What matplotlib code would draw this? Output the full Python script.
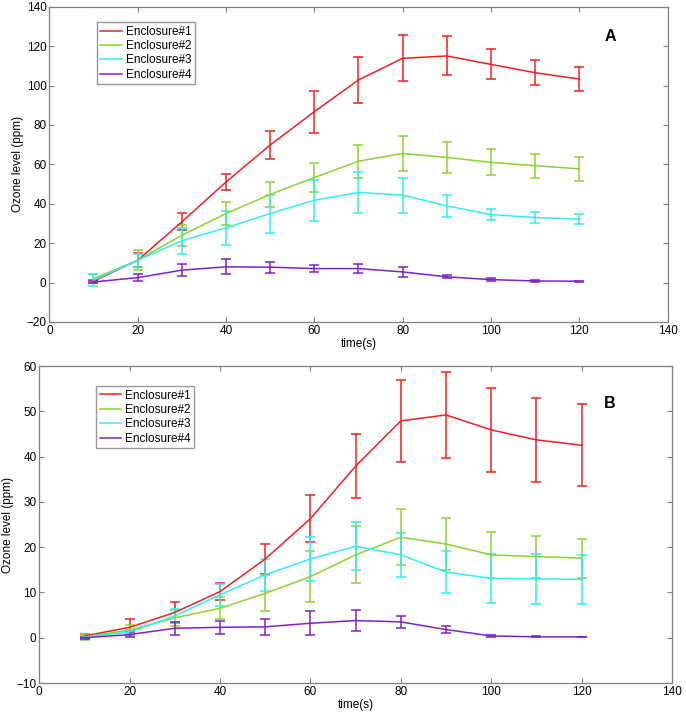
import matplotlib
matplotlib.use("Agg")
import matplotlib.pyplot as plt

plt.rcParams['font.family'] = ['Liberation Sans', 'DejaVu Sans']

time_s = [10, 20, 30, 40, 50, 60, 70, 80, 90, 100, 110, 120]
labels = ["Enclosure#1", "Enclosure#2", "Enclosure#3", "Enclosure#4"]
colors = ["#f02020", "#8cd232", "#33eeee", "#8020c8"]

# panel A: means and error half-widths
a_mean = [
    [0.7, 11.3, 30.8, 51.0, 69.8, 86.7, 102.8, 113.8, 115.0, 110.7, 106.5, 103.3],
    [2.0, 11.3, 24.0, 35.0, 44.7, 53.3, 61.6, 65.5, 63.5, 61.0, 59.3, 57.7],
    [1.2, 11.3, 21.2, 27.8, 35.0, 41.8, 45.7, 44.4, 38.9, 34.5, 33.0, 32.2],
    [0.3, 2.5, 6.3, 8.0, 7.8, 7.1, 7.1, 5.4, 2.9, 1.5, 0.8, 0.7],
]
a_err = [
    [0.8, 3.6, 4.3, 4.2, 7.0, 10.6, 11.8, 11.7, 9.9, 7.6, 6.3, 6.2],
    [2.2, 5.0, 5.2, 5.9, 6.2, 7.4, 8.4, 8.8, 7.7, 6.6, 6.1, 6.0],
    [3.0, 3.4, 6.6, 8.6, 9.6, 10.4, 10.3, 8.9, 5.4, 2.8, 2.7, 2.5],
    [0.5, 1.9, 3.2, 3.9, 2.7, 1.9, 2.2, 2.7, 0.7, 0.6, 0.4, 0.3],
]

# panel B: means and error half-widths
b_mean = [
    [0.4, 2.3, 5.6, 10.2, 17.4, 26.3, 37.9, 47.9, 49.2, 45.9, 43.7, 42.5],
    [0.2, 1.7, 4.4, 6.5, 9.8, 13.5, 18.3, 22.2, 20.7, 18.3, 17.9, 17.6],
    [0.1, 1.3, 4.8, 9.5, 13.9, 17.4, 20.2, 18.3, 14.5, 13.1, 13.0, 12.9],
    [0.0, 0.7, 2.1, 2.3, 2.4, 3.2, 3.8, 3.5, 1.8, 0.4, 0.2, 0.2],
]
b_err = [
    [0.5, 1.8, 2.4, 1.9, 3.3, 5.2, 7.0, 9.0, 9.4, 9.3, 9.3, 9.1],
    [0.7, 1.2, 1.7, 2.4, 4.0, 5.7, 6.3, 6.2, 5.7, 5.0, 4.6, 4.3],
    [0.3, 0.5, 1.5, 2.4, 3.5, 4.9, 5.3, 4.9, 4.6, 5.4, 5.6, 5.4],
    [0.2, 0.5, 1.4, 1.4, 1.8, 2.6, 2.4, 1.3, 0.8, 0.2, 0.1, 0.05],
]


def draw_panel(ax, means, errs, ylim, yticks, tag, leg_xy, tag_xy):
    for m, e, c, lab in zip(means, errs, colors, labels):
        ax.errorbar(time_s, m, yerr=e, color=c, lw=1.1, elinewidth=1.1,
                    capsize=3.8, capthick=1.1, label=lab)
    ax.set_xlim(0, 140)
    ax.set_ylim(*ylim)
    ax.set_xticks(range(0, 141, 20))
    ax.set_yticks(yticks)
    ax.tick_params(direction="in", top=True, right=True, length=3.5,
                   width=0.8, color="#808080", labelsize=8.5, pad=2)
    for s in ax.spines.values():
        s.set_color("#808080")
        s.set_linewidth(0.9)
    ax.set_xlabel("time(s)", fontsize=8.5, labelpad=1)
    ax.set_ylabel("Ozone level (ppm)", fontsize=8.5, labelpad=2)
    handles, lbls = ax.get_legend_handles_labels()
    handles = [h[0] for h in handles]
    ax.legend(handles, lbls, loc="upper left", bbox_to_anchor=leg_xy,
              fontsize=8.5, frameon=True, fancybox=False, edgecolor="#808080",
              handlelength=1.85, handletextpad=0.3, labelspacing=0.2,
              borderpad=0.3, borderaxespad=0)
    ax.text(tag_xy[0], tag_xy[1], tag, transform=ax.transAxes, fontsize=11.5,
            fontweight="bold", ha="center", va="center")


fig = plt.figure(figsize=(6.86, 7.12), dpi=100)
ax_a = fig.add_axes([0.0719, 0.5478, 0.9013, 0.4428])
ax_b = fig.add_axes([0.0573, 0.0407, 0.9223, 0.4452])

draw_panel(ax_a, a_mean, a_err, (-20, 140), range(-20, 141, 20), "A",
           (0.077, 0.951), (0.908, 0.905))
draw_panel(ax_b, b_mean, b_err, (-10, 60), range(-10, 61, 10), "B",
           (0.0896, 0.937), (0.902, 0.882))

fig.savefig("out.png", dpi=100)
